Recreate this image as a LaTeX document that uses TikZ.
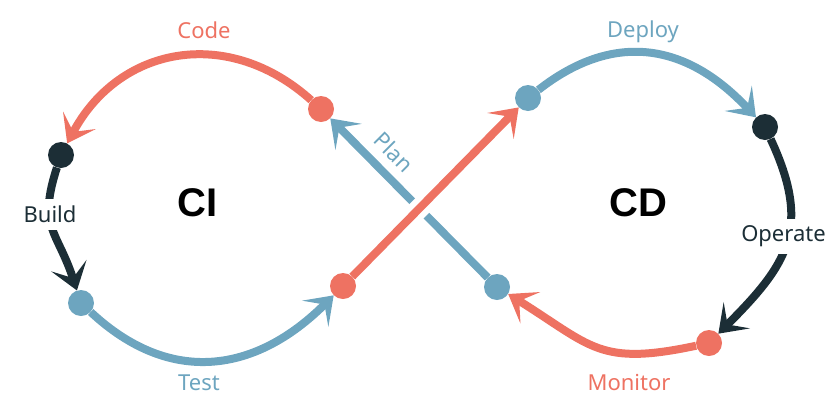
\documentclass[tikz,border=0pt]{standalone}
\usepackage{fontspec}
\setmainfont{Noto Sans}
\newfontfamily\headfont{Liberation Sans}
\usetikzlibrary{arrows.meta,backgrounds}
\definecolor{coral}{HTML}{EE7262}
\definecolor{steel}{HTML}{6DA5BF}
\definecolor{ink}{HTML}{1C2E36}
\begin{document}
\begin{tikzpicture}[x=1pt,y=1pt,
  dot/.style={circle, minimum size=26pt, inner sep=0pt, draw=none},
  flow/.style={line width=8pt, -{Stealth[length=26pt,width=37pt,inset=13pt]}},
  lbl/.style={font=\fontsize{22}{26}\selectfont, anchor=base, inner sep=0pt},
  big/.style={font=\headfont\fontsize{40}{48}\selectfont\bfseries, anchor=base, inner sep=0pt, text=black}
]
\useasboundingbox (0,0) rectangle (835,-413);

% dots
\node[dot, fill=coral] (code) at (321,-109) {};
\node[dot, fill=ink]   (build) at (61,-155) {};
\node[dot, fill=steel] (test) at (81,-303) {};
\node[dot, fill=coral] (rel) at (343,-286) {};
\node[dot, fill=steel] (dep) at (528,-98) {};
\node[dot, fill=ink]   (ope) at (765,-127) {};
\node[dot, fill=coral] (mon) at (709,-343) {};
\node[dot, fill=steel] (plan) at (497,-287) {};

\begin{pgfonlayer}{background}
\draw[flow, steel] (plan) -- (code);
\draw[line width=20pt, white, shorten <=30pt, shorten >=30pt] (rel) -- (dep);
\draw[flow, coral] (rel) -- (dep);
\draw[flow, coral] (code) to[out=138,in=62,looseness=1.15] (build);
\draw[flow, ink] (build) to[out=252,in=108,looseness=1.3] (test);
\draw[flow, steel] (test) to[out=317,in=225,looseness=1.15] (rel);
\draw[flow, steel] (dep) to[out=38,in=133,looseness=1.15] (ope);
\draw[flow, ink] (ope) to[out=295,in=45,looseness=1.25] (mon);
\draw[flow, coral] (mon) to[out=192,in=328,looseness=1.3] (plan);
\end{pgfonlayer}

% labels
\node[lbl, text=coral] (lcode) at (204,-38.3) {Code};
\node[lbl, text=steel] (ldep) at (643,-37.7) {Deploy};
\node[lbl, text=steel] (ltest) at (199,-390.7) {Test};
\node[lbl, text=coral] (lmon) at (629,-390.7) {Monitor};
\node[lbl, text=ink, fill=white, inner xsep=2pt, inner ysep=7pt] (lbuild) at (50,-222.7) {Build};
\node[lbl, text=ink, fill=white, inner xsep=2pt, inner ysep=7pt] (lop) at (783.5,-241.5) {Operate};
\node[lbl, text=steel, anchor=center, rotate=-45] (lplan) at (394,-152) {Plan};
\node[big] (ci) at (197.5,-216.7) {CI};
\node[big] (cd) at (638.5,-216.7) {CD};
\end{tikzpicture}
\end{document}
